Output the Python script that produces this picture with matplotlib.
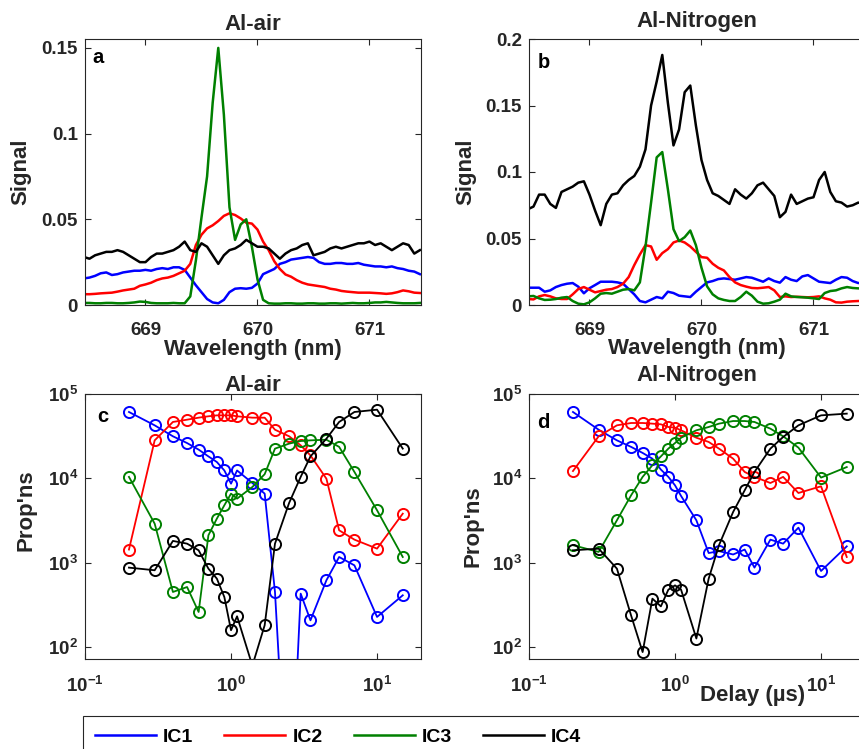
import numpy as np
import matplotlib.pyplot as plt
from matplotlib.lines import Line2D
from matplotlib.patches import Rectangle
from matplotlib.ticker import NullLocator

plt.rcParams['font.family'] = ['Liberation Sans', 'DejaVu Sans']
plt.rcParams['font.weight'] = 'bold'
plt.rcParams['axes.labelweight'] = 'bold'
plt.rcParams['mathtext.fontset'] = 'custom'
plt.rcParams['mathtext.bf'] = 'Liberation Sans:bold'
plt.rcParams['mathtext.rm'] = 'Liberation Sans:bold'

# ---- spectra (wavelength grid 668.45 .. 671.45 nm, 0.05 nm step) ----
wavelength = np.linspace(668.45, 671.45, 61)

air_ic1 = [0.0155, 0.016, 0.017, 0.0185, 0.019, 0.0175, 0.018, 0.019, 0.0195, 0.020,
           0.020, 0.0205, 0.020, 0.021, 0.0215, 0.021, 0.022, 0.022, 0.0205, 0.016,
           0.0115, 0.0075, 0.0035, 0.0015, 0.001, 0.003, 0.0075, 0.0095, 0.0098, 0.0095,
           0.010, 0.0125, 0.018, 0.0195, 0.021, 0.024, 0.025, 0.0265, 0.027, 0.0275,
           0.028, 0.0275, 0.025, 0.024, 0.024, 0.0245, 0.0245, 0.024, 0.024, 0.0245,
           0.0235, 0.023, 0.0225, 0.0225, 0.022, 0.0225, 0.0215, 0.021, 0.020, 0.0195,
           0.018]
air_ic2 = [0.0063, 0.0063, 0.0065, 0.0068, 0.007, 0.0072, 0.0078, 0.0085, 0.009, 0.0095,
           0.0112, 0.012, 0.013, 0.0145, 0.0155, 0.016, 0.017, 0.0185, 0.020, 0.024,
           0.035, 0.041, 0.0447, 0.0465, 0.049, 0.052, 0.0535, 0.0525, 0.0505, 0.048,
           0.0475, 0.044, 0.037, 0.032, 0.0255, 0.021, 0.0178, 0.0165, 0.0145, 0.013,
           0.012, 0.0115, 0.011, 0.0105, 0.0095, 0.009, 0.0082, 0.0078, 0.0075, 0.0072,
           0.0072, 0.0072, 0.007, 0.0068, 0.0065, 0.0068, 0.0075, 0.0085, 0.008, 0.0072,
           0.007]
air_ic3 = [0.0012, 0.0012, 0.001, 0.001, 0.0012, 0.0012, 0.001, 0.001, 0.0012, 0.0015,
           0.002, 0.0018, 0.0012, 0.001, 0.001, 0.001, 0.0012, 0.001, 0.001, 0.005,
           0.026, 0.051, 0.075, 0.118, 0.150, 0.111, 0.057, 0.038, 0.047, 0.050,
           0.034, 0.015, 0.003, 0.001, 0.0008, 0.0008, 0.001, 0.001, 0.0008, 0.0008,
           0.001, 0.001, 0.0008, 0.0008, 0.001, 0.001, 0.0008, 0.001, 0.0012, 0.001,
           0.001, 0.0012, 0.0015, 0.0015, 0.0018, 0.0015, 0.0012, 0.001, 0.001, 0.001,
           0.0012]
air_ic4 = [0.028, 0.027, 0.029, 0.030, 0.031, 0.031, 0.032, 0.031, 0.029, 0.027,
           0.025, 0.025, 0.028, 0.030, 0.030, 0.031, 0.032, 0.034, 0.037, 0.032,
           0.031, 0.036, 0.034, 0.029, 0.024, 0.029, 0.032, 0.033, 0.035, 0.038,
           0.036, 0.034, 0.034, 0.033, 0.030, 0.027, 0.030, 0.032, 0.033, 0.035,
           0.036, 0.029, 0.030, 0.031, 0.033, 0.034, 0.033, 0.034, 0.035, 0.036,
           0.036, 0.037, 0.035, 0.036, 0.034, 0.032, 0.034, 0.036, 0.035, 0.030,
           0.032]

n2_ic1 = [0.013, 0.013, 0.013, 0.010, 0.011, 0.0135, 0.015, 0.016, 0.0165, 0.0138,
          0.0088, 0.0126, 0.015, 0.0175, 0.0175, 0.0175, 0.017, 0.016, 0.012, 0.008,
          0.003, 0.002, 0.004, 0.006, 0.005, 0.010, 0.009, 0.007, 0.0065, 0.006,
          0.010, 0.0135, 0.017, 0.018, 0.0195, 0.020, 0.0195, 0.019, 0.020, 0.021,
          0.0205, 0.019, 0.0175, 0.020, 0.018, 0.0168, 0.021, 0.019, 0.018, 0.0215,
          0.0225, 0.020, 0.0175, 0.017, 0.0165, 0.019, 0.021, 0.0205, 0.018, 0.0165,
          0.017]
n2_ic2 = [0.0045, 0.0042, 0.0065, 0.0075, 0.0065, 0.005, 0.0045, 0.0045, 0.008, 0.012,
          0.0135, 0.0115, 0.0095, 0.0105, 0.0115, 0.012, 0.0135, 0.016, 0.021, 0.030,
          0.038, 0.045, 0.044, 0.034, 0.039, 0.042, 0.047, 0.0485, 0.047, 0.044,
          0.040, 0.036, 0.0355, 0.031, 0.028, 0.026, 0.021, 0.017, 0.015, 0.0138,
          0.0128, 0.0126, 0.013, 0.0135, 0.011, 0.006, 0.0065, 0.006, 0.0062, 0.006,
          0.0058, 0.006, 0.0065, 0.005, 0.004, 0.002, 0.0018, 0.0025, 0.0028, 0.003,
          0.003]
n2_ic3 = [0.0065, 0.0068, 0.005, 0.0038, 0.004, 0.0045, 0.0055, 0.006, 0.003, 0.001,
          0.0005, 0.002, 0.005, 0.0085, 0.009, 0.0085, 0.010, 0.0115, 0.012, 0.011,
          0.017, 0.044, 0.077, 0.111, 0.115, 0.087, 0.057, 0.048, 0.051, 0.056,
          0.045, 0.028, 0.014, 0.008, 0.005, 0.0038, 0.003, 0.003, 0.006, 0.010,
          0.007, 0.0025, 0.001, 0.0013, 0.0025, 0.004, 0.0085, 0.0065, 0.006, 0.0058,
          0.0055, 0.005, 0.0045, 0.009, 0.0105, 0.011, 0.0125, 0.0135, 0.0128, 0.0125,
          0.0125]
n2_ic4 = [0.072, 0.074, 0.083, 0.083, 0.076, 0.073, 0.085, 0.087, 0.089, 0.092,
          0.093, 0.083, 0.071, 0.060, 0.076, 0.083, 0.084, 0.090, 0.094, 0.097,
          0.104, 0.117, 0.150, 0.168, 0.188, 0.152, 0.120, 0.132, 0.160, 0.165,
          0.135, 0.109, 0.094, 0.084, 0.082, 0.079, 0.076, 0.087, 0.083, 0.080,
          0.084, 0.090, 0.092, 0.087, 0.082, 0.066, 0.070, 0.083, 0.076, 0.078,
          0.080, 0.081, 0.094, 0.100, 0.085, 0.078, 0.077, 0.074, 0.075, 0.077,
          0.076]

# ---- proportions vs delay ----
delay = [0.2, 0.3, 0.4, 0.5, 0.6, 0.7, 0.8, 0.9, 1.0, 1.1, 1.4,
         1.7, 2.0, 2.5, 3.0, 3.5, 4.5, 5.5, 7.0, 10.0, 15.0]

pop_air_ic1 = [61200, 42500, 31500, 26200, 21900, 18200, 15600, 12400, 8640, 12400, 8800,
               6580, 449, 0.5, 429, 207, 618, 1167, 929, 227, 410]
pop_air_ic2 = [1430, 28200, 46600, 49600, 52400, 54400, 55800, 55800, 55800, 54400, 52400,
               52400, 37700, 31500, 24600, 18700, 9900, 2420, 1875, 1466, 3810]
pop_air_ic3 = [10400, 2900, 449, 514, 260, 2110, 3330, 4790, 6580, 5740, 7890,
               11200, 22500, 25800, 27700, 28200, 28700, 23600, 11900, 4180, 1167]
pop_air_ic4 = [873, 812, 1810, 1680, 1400, 849, 646, 391, 158, 231, 60,
               181, 1680, 5110, 10400, 18200, 29500, 46600, 61200, 65200, 22500]

pop_n2_ic1 = [61200, 37700, 28200, 23600, 20000, 17100, 12700, 10400, 8260, 6180, 3180,
              1300, 1370, 1250, 1430, 873, 1875, 1680, 2600, 796, 1560]
pop_n2_ic2 = [12200, 31500, 42500, 45300, 45300, 44500, 43700, 40600, 39900, 37100, 30300,
              27000, 22500, 17100, 11900, 10400, 8800, 10400, 6700, 8040, 1167]
pop_n2_ic3 = [1610, 1340, 3180, 6280, 10400, 14300, 18200, 22500, 26200, 30300, 37100,
              40600, 44500, 47800, 47800, 46600, 38800, 31500, 23100, 10200, 13600]
pop_n2_ic4 = [1400, 1466, 849, 237, 87, 374, 303, 478, 538, 478, 126,
              646, 1610, 3990, 7210, 11900, 22500, 30900, 42500, 55800, 58500]

labels = ['IC1', 'IC2', 'IC3', 'IC4']
colors = ['#0000ff', '#ff0000', '#008000', '#000000']

wl_ticks = [669, 670, 671]
sig_ticks_air = [0, 0.05, 0.1, 0.15]
sig_labels_air = ['0', '0.05', '0.1', '0.15']
sig_ticks_n2 = [0, 0.05, 0.1, 0.15, 0.2]
sig_labels_n2 = ['0', '0.05', '0.1', '0.15', '0.2']
delay_ticks = [0.1, 1, 10]
delay_labels = [r'$\mathbf{10^{-1}}$', r'$\mathbf{10^{0}}$', r'$\mathbf{10^{1}}$']
pop_ticks = [1e2, 1e3, 1e4, 1e5]
pop_labels = [r'$\mathbf{10^{2}}$', r'$\mathbf{10^{3}}$', r'$\mathbf{10^{4}}$', r'$\mathbf{10^{5}}$']

TXT = '#262626'
TICK_FS = 13.5
LABEL_FS = 16
W, H = 859, 749
fig = plt.figure(figsize=(W / 100, H / 100), dpi=100)


def px_axes(l, t, r, b):
    return fig.add_axes([l / W, 1 - b / H, (r - l) / W, (b - t) / H])


def style(ax):
    for s in ax.spines.values():
        s.set_color(TXT)
        s.set_linewidth(0.8)
    ax.tick_params(direction='in', top=True, right=True, length=4, width=0.8,
                   color=TXT, labelcolor=TXT, labelsize=TICK_FS)
    ax.tick_params(axis='x', pad=12)
    ax.tick_params(axis='y', pad=5)


ax_a = px_axes(85, 39, 421, 305)
ax_b = px_axes(529, 39, 865, 305)
ax_c = px_axes(85, 394, 421, 659)
ax_d = px_axes(529, 394, 865, 659)

# spectra panels
for ax, series, yt, yl, ymax in [
        (ax_a, [air_ic1, air_ic2, air_ic3, air_ic4], sig_ticks_air, sig_labels_air, 0.1552),
        (ax_b, [n2_ic1, n2_ic2, n2_ic3, n2_ic4], sig_ticks_n2, sig_labels_n2, 0.2)]:
    for ys, c in zip(series, colors):
        ax.plot(wavelength, ys, color=c, lw=1.8)
    ax.set_xlim(668.46, 671.46)
    ax.set_ylim(0, ymax)
    ax.set_xticks(wl_ticks)
    ax.set_xticklabels([str(t) for t in wl_ticks])
    ax.set_yticks(yt)
    ax.set_yticklabels(yl)
    style(ax)
    ax.set_xlabel('Wavelength (nm)', fontsize=LABEL_FS, fontweight='bold', color=TXT)
    ax.set_ylabel('Signal', fontsize=LABEL_FS, fontweight='bold', color=TXT)

ax_a.xaxis.set_label_coords(0.5, -0.128)
ax_b.xaxis.set_label_coords(0.5, -0.124)
ax_a.yaxis.set_label_coords(-0.160, 0.5)
ax_b.yaxis.set_label_coords(-0.158, 0.5)

# proportion panels
for ax, series in [(ax_c, [pop_air_ic1, pop_air_ic2, pop_air_ic3, pop_air_ic4]),
                   (ax_d, [pop_n2_ic1, pop_n2_ic2, pop_n2_ic3, pop_n2_ic4])]:
    for ys, c in zip(series, colors):
        ax.plot(delay, ys, color=c, lw=1.3, marker='o', markersize=8,
                markerfacecolor='none', markeredgewidth=1.4)
    ax.set_xscale('log')
    ax.set_yscale('log')
    ax.set_xlim(0.1, 20)
    ax.set_ylim(72, 1e5)
    ax.set_xticks(delay_ticks)
    ax.set_xticklabels(delay_labels)
    ax.set_yticks(pop_ticks)
    ax.set_yticklabels(pop_labels)
    ax.xaxis.set_minor_locator(NullLocator())
    ax.yaxis.set_minor_locator(NullLocator())
    style(ax)
    ax.set_ylabel("Prop'ns", fontsize=LABEL_FS, fontweight='bold', color=TXT)

ax_c.yaxis.set_label_coords(-0.143, 0.56)
ax_d.yaxis.set_label_coords(-0.136, 0.5)
ax_d.set_xlabel('Delay (\u00b5s)', fontsize=LABEL_FS, fontweight='bold', color=TXT)
ax_d.xaxis.set_label_coords(0.664, -0.100)

# titles and panel letters
for ax, title, ty, letter, lx, ly in [
        (ax_a, 'Al-air', 1.034, 'a', 0.021, 0.91),
        (ax_b, 'Al-Nitrogen', 1.045, 'b', 0.027, 0.89),
        (ax_c, 'Al-air', 1.011, 'c', 0.036, 0.894),
        (ax_d, 'Al-Nitrogen', 1.049, 'd', 0.024, 0.872)]:
    ax.text(0.5, ty, title, transform=ax.transAxes, ha='center', va='baseline',
            fontsize=LABEL_FS, fontweight='bold', color=TXT)
    ax.text(lx, ly, letter, transform=ax.transAxes, ha='left', va='baseline',
            fontsize=14.5, fontweight='bold', color='black')

# legend box along the bottom
fig.patches.append(Rectangle((83 / W, -0.05), 1.0, 0.05 + (H - 716) / H,
                             transform=fig.transFigure, fill=False,
                             edgecolor=TXT, linewidth=0.8))
handles = [Line2D([], [], color=c, lw=1.8) for c in colors]
fig.legend(handles, labels, loc='center left', bbox_to_anchor=(95 / W, 1 - 737 / H),
           ncol=4, frameon=False, borderpad=0, borderaxespad=0,
           handlelength=3.14, handletextpad=0.36, columnspacing=1.6,
           prop={'size': 14, 'weight': 'bold'})

fig.savefig('out.png', dpi=100)
